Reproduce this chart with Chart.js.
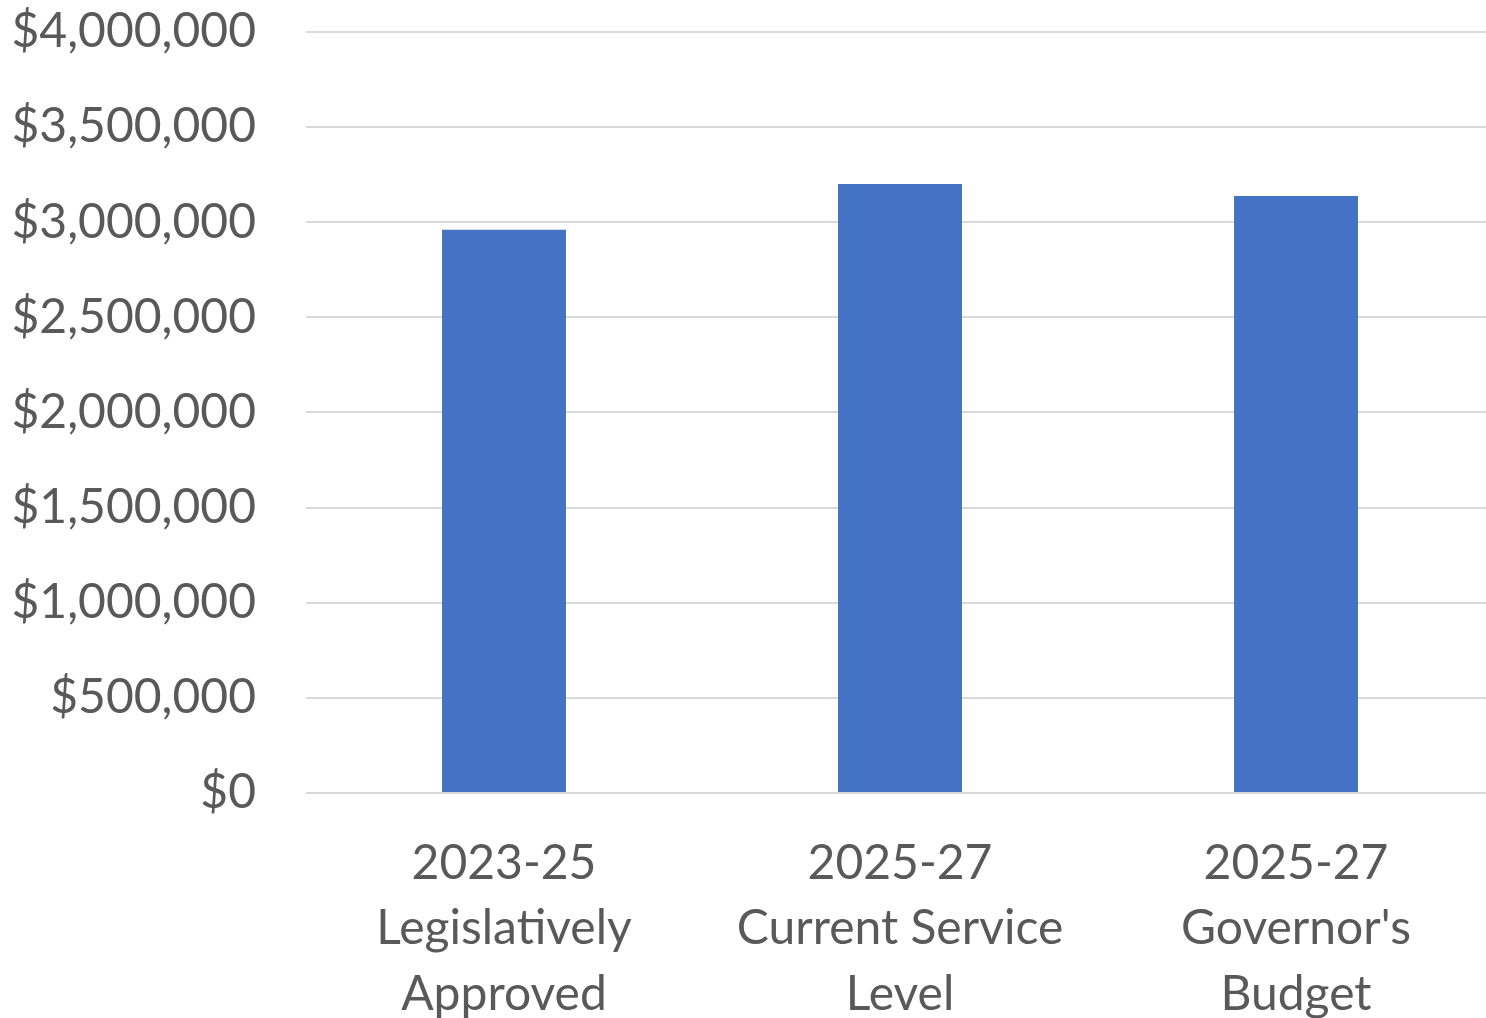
<!DOCTYPE html>
<html>
<head>
<meta charset="utf-8">
<script src="https://cdn.jsdelivr.net/npm/chart.js@4.4.1/dist/chart.umd.min.js"></script>
<style>
  html, body { margin: 0; padding: 0; background: #fff; overflow: hidden; }
  canvas { display: block; margin-top: -47px; }
</style>
</head>
<body>
<canvas id="budgetChart" width="1494" height="1065"></canvas>
<script>
// Data
var categories = [
  ['2023-25', 'Legislatively', 'Approved'],
  ['2025-27', 'Current Service', 'Level'],
  ['2025-27', "Governor's", 'Budget']
];
var amounts = [2960000, 3200000, 3137000];
var yTicks = [0, 500000, 1000000, 1500000, 2000000, 2500000, 3000000, 3500000, 4000000];

var textColor = '#595959';
var fontFamily = 'Lato, "Open Sans", sans-serif';

var data = {
  labels: categories,
  datasets: [
    {
      data: amounts,
      backgroundColor: '#4472C4',
      borderWidth: 0,
      barPercentage: 0.313,
      categoryPercentage: 1.0
    }
  ]
};

var config = {
  type: 'bar',
  data: data,
  options: {
    responsive: false,
    animation: false,
    layout: { padding: 0 },
    plugins: {
      legend: { display: false },
      tooltip: { enabled: false }
    },
    scales: {
      x: {
        grid: { display: false },
        border: { display: false },
        ticks: {
          color: textColor,
          font: { family: fontFamily, size: 48, lineHeight: 1.36 },
          padding: 30,
          maxRotation: 0
        },
        afterFit: function (scale) { scale.height = 225; }
      },
      y: {
        min: 0,
        max: 4000000,
        afterBuildTicks: function (scale) {
          scale.ticks = yTicks.map(function (v) { return { value: v }; });
        },
        grid: { color: '#d9d9d9', lineWidth: 2, drawTicks: false },
        border: { display: false },
        ticks: {
          color: textColor,
          font: { family: fontFamily, size: 48 },
          padding: 50,
          callback: function (v) { return '$' + Number(v).toLocaleString('en-US'); }
        },
        afterFit: function (scale) { scale.width = 306; }
      }
    }
  }
};

var ctx = document.getElementById('budgetChart').getContext('2d');
var budgetChart = new Chart(ctx, config);
</script>
</body>
</html>
